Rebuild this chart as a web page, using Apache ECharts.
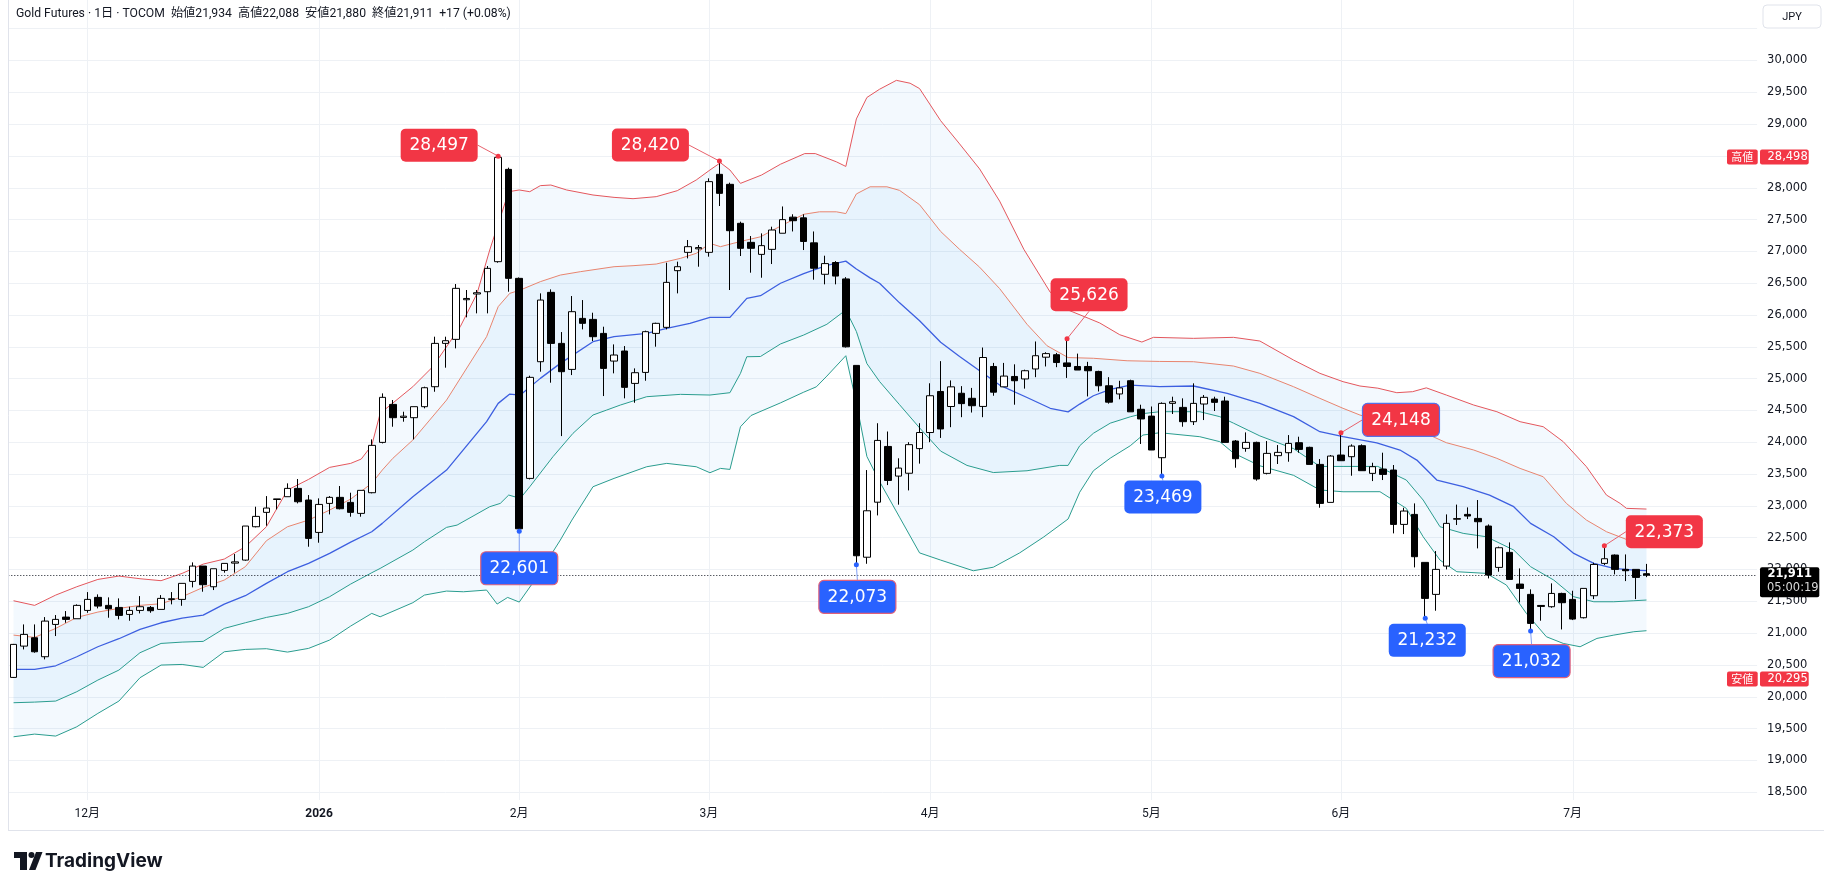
<!DOCTYPE html>
<html><head><meta charset="utf-8">
<script src="https://cdn.jsdelivr.net/npm/echarts@6/dist/echarts.min.js"></script>
<style>html,body{margin:0;padding:0;background:#fff;}#c{width:1824px;height:890px;}</style>
</head><body><div id="c"></div>
<script>
// ---------- data ----------
// daily bars: [open, close, low, high]
const ohlc = [
[20304,20823,20295,20830],[20796,20980,20744,21137],[20927,20707,20692,21137],[20629,21189,20587,21252],[21137,21216,20954,21284],
[21252,21216,21163,21347],[21226,21436,21226,21452],[21357,21530,21320,21645],[21562,21425,21389,21609],[21436,21383,21242,21562],
[21404,21279,21216,21546],[21294,21357,21195,21415],[21357,21415,21310,21582],[21404,21352,21320,21426],[21373,21546,21373,21598],
[21530,21540,21452,21645],[21530,21782,21430,21782],[21813,22054,21719,22112],[22054,21761,21651,22054],[21729,22012,21677,22012],
[21986,22096,21950,22096],[22100,22120,21950,22243],[22148,22683,22138,22683],[22672,22835,22662,22987],[22898,22966,22688,23154],
[23100,23110,22945,23110],[23144,23275,23144,23354],[23275,23065,23039,23422],[23092,22489,22358,23170],[22583,23023,22421,23118],
[23039,23134,22866,23154],[23134,22955,22945,23312],[23055,22898,22830,23207],[22882,23244,22830,23244],[23207,23951,23197,24045],
[23998,24706,23982,24768],[24595,24386,24244,24664],[24390,24410,24323,24480],[24386,24559,24045,24559],[24559,24857,24533,24873],
[24873,25554,24794,25659],[25554,25596,25172,25659],[25617,26419,25476,26487],[26240,26260,25963,26393],[26330,26350,26026,26393],
[26366,26733,26026,26770],[26838,28478,26822,28497],[28289,26576,26366,28316],[26576,22640,22601,26590],[23432,25020,23416,25046],
[25266,26235,25109,26340],[26356,25554,24936,26403],[25554,25109,24097,25732],[25145,26052,25056,26298],[25947,25869,25774,26235],
[25931,25659,25591,26036],[25711,25161,24726,25816],[25276,25371,25083,25538],[25434,24863,24690,25512],[24925,25093,24621,25161],
[25098,25738,24967,25754],[25711,25869,25502,25879],[25806,26513,25774,26822],[26697,26759,26340,26838],[26985,27074,26890,27179],
[27040,27060,26759,27100],[26985,28096,26917,28148],[28211,27912,27713,28420],[28054,27325,26393,28080],[27441,27048,26927,27467],
[27142,27048,26665,27241],[26953,27090,26586,27283],[27032,27336,26801,27388],[27285,27499,27285,27706],[27538,27482,27313,27583],
[27527,27156,27021,27583],[27134,26735,26555,27313],[26640,26808,26482,26932],[26825,26612,26482,26847],[26567,25500,25489,26595],
[25208,22216,22073,25208],[22193,22923,22090,23563],[23058,24029,22850,24299],[23934,23400,23327,24169],[23468,23594,23019,23748],
[23513,23962,23243,24001],[23900,24153,23664,24299],[24153,24731,24001,24927],[24798,24209,24068,25275],[24562,24871,24237,24972],
[24770,24607,24394,24882],[24691,24574,24467,24854],[24563,25332,24394,25489],[25191,24787,24731,25247],[24871,25040,24871,25247],
[25034,24967,24590,25225],[24995,25124,24843,25141],[25152,25360,25023,25584],[25337,25393,25191,25415],[25376,25253,25180,25404],
[25247,25191,25011,25626],[25191,25135,25135,25393],[25191,25124,24720,25264],[25113,24888,24798,25124],[24888,24630,24607,25023],
[24759,24854,24675,24966],[24967,24478,24478,24983],[24518,24366,23973,24590],[24411,23878,23878,24562],[23757,24611,23469,24627],
[24611,24637,24444,24716],[24548,24323,24244,24690],[24323,24611,24271,24926],[24601,24706,24349,24742],[24679,24627,24491,24716],
[24648,23998,23998,24716],[24019,23741,23600,24035],[23904,23998,23851,24155],[23998,23422,23396,24009],[23511,23825,23495,24019],
[23789,23841,23658,23956],[23836,23982,23694,24113],[23993,23888,23836,24087],[23920,23652,23652,23930],[23652,23039,22971,23736],
[23055,23783,23055,23799],[23799,23710,23710,24148],[23773,23940,23474,23967],[23946,23553,23553,23967],[23511,23616,23390,23678],
[23579,23495,23406,23836],[23563,22709,22568,23642],[22709,22919,22557,22971],[22866,22201,22033,23039],[22112,21546,21232,22112],
[21609,22002,21352,22290],[22054,22725,22002,22866],[22790,22800,22699,23020],[22866,22840,22793,22976],[22803,22751,22332,23092],
[22683,21913,21860,22709],[22033,22342,21965,22360],[22269,21844,21844,22426],[21771,21703,21483,22017],[21609,21153,21032,21688],
[21435,21420,21195,21441],[21415,21624,21399,21782],[21624,21478,21058,21635],[21530,21221,21205,21666],[21242,21703,21231,21703],
[21588,22080,21535,22106],[22096,22169,22070,22373],[22227,22002,21923,22237],[22002,21981,21818,22237],[22002,21876,21535,22002],
[21934,21911,21880,22088]
];
const slotCount = 166; // bar slots on the time scale (incl. empty right margin)
const monthTicks = [[7,'12月'],[29,'2026'],[48,'2月'],[66,'3月'],[87,'4月'],[108,'5月'],[126,'6月'],[148,'7月']];
const yRange = {min:18000, max:30951, step:500, firstLabel:18500, lastLabel:30000};

// band lines: [bar position, price]
const outerUpper = [[0,21509],[2,21436],[4,21598],[6,21729],[8,21844],[10,21897],[12,21855],[14,21824],[16,21939],[18,22085],[20,22164],[22,22358],[24,22672],[26,23249],[28,23416],[30,23605],[32,23668],[33,23736],[34,23951],[34.8,24454],[37.9,24873],[39.8,25188],[42.4,25816],[44,26340],[45.2,27022],[47,27938],[48,27965],[49,27938],[50,28033],[51,28043],[52.5,27965],[55,27886],[57,27849],[58.8,27828],[61,27860],[63,27954],[64.8,28122],[66.1,28279],[67.1,28394],[68,28279],[69,28069],[71,28200],[72.8,28370],[75.1,28537],[76.1,28537],[78.1,28408],[79,28335],[80,29082],[81,29419],[82.2,29548],[83.8,29688],[85.1,29643],[86,29559],[88,29054],[89.8,28689],[91.7,28296],[93.6,27790],[95.9,27032],[98.4,26359],[100.1,26078],[102,25950],[103.1,25875],[105,25690],[107.1,25575],[108.2,25649],[112,25633],[115.8,25649],[118.3,25591],[121.5,25292],[124,25083],[126.2,24952],[127.8,24884],[129.5,24850],[131.3,24779],[132.8,24795],[134.1,24855],[136,24742],[138.6,24585],[140.8,24480],[143,24323],[145.2,24244],[147.1,24009],[149.3,23616],[151.2,23170],[152.5,23039],[153.1,22961],[155,22950]];
const innerUpper = [[0,20969],[2,20933],[4,21074],[6,21247],[8,21331],[10,21389],[12,21436],[14,21462],[16,21572],[18,21719],[20,21834],[22,22044],[24,22452],[26,22672],[28,22777],[30,22934],[32,23107],[34,23354],[35,23563],[36,23747],[37.9,24035],[41.1,24663],[44.9,25659],[46,26131],[47.1,26340],[48.1,26393],[50,26524],[51.9,26628],[53.8,26681],[57,26759],[58.8,26775],[61,26801],[63.3,26890],[64.8,26969],[66.1,27126],[67.1,27074],[68.3,27126],[69.6,27179],[70.9,27229],[72.8,27397],[75,27583],[76.5,27622],[78.1,27622],[79,27594],[80,27903],[81.3,28015],[82.9,28015],[84.1,27959],[86,27734],[88,27313],[89.8,27032],[91.7,26752],[93.6,26415],[96.2,25854],[98.1,25517],[100.1,25331],[102.5,25320],[105.7,25281],[108.8,25270],[112,25266],[115.8,25198],[118.3,25083],[121.5,24873],[124,24690],[126.2,24533],[127.8,24428],[129.7,24340],[132.4,24260],[134.4,24113],[136,23993],[138.6,23878],[140.8,23747],[143,23589],[145.2,23458],[147.4,23039],[149.3,22777],[151.2,22594],[153.1,22473],[155,22463]];
const basis = [[0,20430],[2,20430],[4,20487],[6,20629],[8,20786],[10,20912],[12,21058],[14,21163],[16,21237],[18,21284],[20,21457],[22,21588],[24,21782],[26,21965],[28,22096],[30,22253],[32,22431],[34,22594],[35,22725],[37.9,23144],[41.1,23563],[44.9,24323],[46,24611],[47.1,24758],[48.1,24742],[50,25004],[51.9,25240],[55,25580],[57,25659],[60.1,25711],[62,25790],[64.2,25869],[66.1,25963],[68,25963],[69.6,26262],[70.9,26303],[72.8,26499],[75,26651],[77.2,26780],[79,26847],[80,26724],[81.3,26583],[82.2,26499],[84.1,26191],[86,25910],[88,25573],[89.8,25348],[91.7,25124],[93.6,24899],[96.2,24703],[98.4,24534],[100.1,24478],[101.2,24600],[102.5,24731],[104.1,24832],[106,24899],[108.8,24873],[112,24884],[115.2,24768],[118.3,24611],[121.5,24402],[124,24166],[126.2,24087],[129.4,23990],[131.6,23878],[133.2,23720],[135.1,23406],[137.6,23301],[140.1,23170],[142.4,22987],[144,22725],[146.2,22515],[148.1,22253],[150,22096],[151.9,22017],[153.8,21991],[155,21981]];
const innerLower = [[0,19906],[2,19916],[4,19932],[6,20079],[8,20262],[10,20419],[12,20692],[14,20838],[16,20859],[18,20870],[20,21074],[22,21163],[24,21247],[26,21310],[28,21415],[30,21572],[32,21771],[34,21949],[34.8,22017],[37.9,22305],[39,22436],[41.1,22662],[42.1,22698],[45.2,22987],[46.2,23039],[47,23170],[48.1,23118],[49,23301],[51.2,23773],[53.1,24140],[55,24428],[56.3,24506],[57.6,24585],[60.1,24716],[63.3,24753],[66.1,24742],[68,24779],[69,25083],[69.6,25344],[70.9,25348],[72.8,25545],[75,25685],[77.2,25854],[79,26078],[80,25741],[81,25236],[82.2,24955],[84.1,24590],[86,24226],[88,23861],[90.5,23636],[93,23524],[96.2,23552],[99.3,23636],[100.1,23636],[101.2,23945],[102.5,24141],[104.1,24300],[106,24400],[107.2,24450],[108.8,24480],[112.6,24480],[114.5,24402],[115.8,24300],[118.3,24100],[121.5,23900],[124,23620],[126.2,23620],[129.5,23620],[132.2,23406],[133.8,23092],[135.4,22672],[137.6,22568],[139.8,22515],[142.4,22306],[144,22044],[146.2,21834],[148.1,21572],[150,21493],[151.9,21493],[153.8,21509],[155,21520]];
const outerLower = [[0,19371],[2,19413],[4,19382],[6,19528],[8,19738],[10,19932],[12,20299],[14,20498],[16,20508],[18,20461],[20,20707],[22,20744],[24,20755],[26,20702],[28,20760],[30,20891],[32,21111],[34,21310],[34.8,21257],[37.9,21478],[39,21598],[41.1,21661],[42.7,21650],[44.9,21677],[45.9,21457],[46.9,21561],[48,21488],[49.7,21886],[51.9,22463],[53,22777],[55,23301],[57,23432],[60.1,23615],[62,23668],[64.8,23615],[66.1,23521],[67.1,23589],[68,23573],[69,24244],[70,24420],[72.8,24619],[75,24787],[76.2,24871],[77.2,25040],[79,25360],[80,24619],[81,23776],[82.2,23383],[84.1,22822],[86,22261],[88,22148],[91.1,21980],[93,22036],[95.5,22261],[97.8,22513],[100.1,22794],[101.2,23215],[102.5,23552],[104.1,23750],[106,23945],[107.2,24113],[108.8,24150],[112.6,24087],[114.5,24009],[115.8,23830],[118.3,23630],[121.5,23480],[124,23250],[126.2,23222],[129.7,23223],[132.2,22961],[133.8,22515],[135.4,22148],[137,21965],[139.8,21939],[141.7,21756],[143.6,21310],[145.5,20943],[147.1,20838],[148.7,20786],[150.3,20917],[151.9,20969],[153.8,21022],[155,21038]];

// pivot labels: [bar index, 'high' | 'low']
const pivots = [[46,'high'],[67,'high'],[48,'low'],[80,'low'],[100,'high'],[109,'low'],[126,'high'],[134,'low'],[144,'low'],[151,'high']];
const titleText = 'Gold Futures · 1日 · TOCOM  始値21,934  高値22,088  安値21,880  終値21,911  +17 (+0.08%)';
const lastPrice = 21911;
const countdown = '05:00:19';
const scaleHigh = 28498;
const scaleLow = 20295;

// ---------- layout / style (not data) ----------
const paneBottomY = 800; // pixel row where the price pane ends (time scale below)
const pivotLayout = [
  {dx:-59, dy:-11, side:'r'}, {dx:-69, dy:-16, side:'r'}, {dx:0, dy:37, side:'t', border:'#e0607a'},
  {dx:1, dy:32, side:'t', border:'#e0607a'}, {dx:22, dy:-44, side:'b'}, {dx:1, dy:21, side:'t'},
  {dx:60, dy:-13, side:'l', border:'#5470e8'}, {dx:2, dy:22, side:'t'}, {dx:1, dy:30, side:'t', border:'#e0607a'},
  {dx:60, dy:-14, side:'l'}
];
const RED = '#f23645', BLUE = '#2962ff';
const NUMFONT = '"DejaVu Sans", sans-serif';
const fmt = v => Math.round(v).toLocaleString('en-US');

const chart = echarts.init(document.getElementById('c'), null, {renderer:'canvas', devicePixelRatio:1});
const labelMap = new Map(monthTicks);
const categories = Array.from({length: slotCount}, (_, i) => String(i));
const pivotData = pivots.map(([i, k]) => [i, k === 'high' ? ohlc[i][3] : ohlc[i][2]]);

function bandFill(upper, lower, fill) {
  return {
    type:'custom', xAxisIndex:1, yAxisIndex:0, silent:true, z:2, data:[[0, 20000]],
    renderItem: (params, api) => {
      const pts = upper.map(p => api.coord(p)).concat(lower.slice().reverse().map(p => api.coord(p)));
      return {type:'polygon', shape:{points:pts}, style:{fill:fill}};
    }
  };
}
function bandLine(data, color, width) {
  return {type:'line', xAxisIndex:1, yAxisIndex:0, data:data, symbol:'none', showSymbol:false, silent:true,
          z:3, lineStyle:{color:color, width:width}};
}

chart.setOption({
  animation:false,
  backgroundColor:'#ffffff',
  grid:{left:8.3, right:66.9, top:0, bottom:66, containLabel:false, outerBoundsMode:'none'},
  xAxis:[
    {type:'category', data:categories, boundaryGap:true, offset:-24,
     axisLine:{show:false}, axisTick:{show:false}, splitLine:{show:false},
     axisLabel:{interval:(idx) => labelMap.has(idx), formatter:(v, idx) => {
        const t = labelMap.get(idx) || ''; return /^\d{4}$/.test(t) ? '{y|' + t + '}' : t; },
       margin:8, color:'#131722', fontSize:12, fontFamily:'Roboto, "Noto Sans CJK JP", sans-serif',
       rich:{y:{fontWeight:'bold', fontSize:12, color:'#131722', fontFamily:'Roboto, sans-serif'}}}},
    {type:'value', min:-0.5, max:slotCount - 0.5, show:false}
  ],
  yAxis:[{type:'value', position:'right', min:yRange.min, max:yRange.max, interval:yRange.step, scale:true,
    axisLine:{show:false}, axisTick:{show:false},
    splitLine:{show:true, showMinLine:false, showMaxLine:false, lineStyle:{color:'#eef1f5', width:1}},
    axisLabel:{margin:10, color:'#131722', fontSize:11.5, fontFamily:NUMFONT,
      formatter:(v) => (v < yRange.firstLabel || v > yRange.lastLabel) ? '' : fmt(v)}}],
  series:[
    {type:'custom', xAxisIndex:1, yAxisIndex:0, z:1, silent:true, data:monthTicks.map(([i]) => [i, yRange.max]),
     renderItem:(params, api) => {
       const p = api.coord([api.value(0), api.value(1)]);
       const x = Math.round(p[0]) + 0.5;
       return {type:'line', shape:{x1:x, y1:p[1], x2:x, y2:paneBottomY}, style:{stroke:'#eef1f5', lineWidth:1}};
     }},
    bandFill(outerUpper, outerLower, 'rgba(33,150,243,0.055)'),
    bandFill(innerUpper, innerLower, 'rgba(33,150,243,0.055)'),
    bandLine(outerUpper, '#e4575d', 1),
    bandLine(innerUpper, '#e8856f', 1),
    bandLine(basis, '#3d5fe0', 1.3),
    bandLine(innerLower, '#2a9d8f', 1),
    bandLine(outerLower, '#2a9d8f', 1),
    {type:'candlestick', xAxisIndex:0, yAxisIndex:0, data:ohlc, barWidth:7, z:5, silent:true,
     itemStyle:{color:'#ffffff', color0:'#000000', borderColor:'#000000', borderColor0:'#000000', borderWidth:1},
     markLine:{silent:true, symbol:['none','none'], label:{show:false}, animation:false,
       lineStyle:{color:'#131722', width:1, type:[1,2]}, data:[{yAxis:lastPrice}]}},
    {type:'custom', xAxisIndex:0, yAxisIndex:0, z:10, silent:true, data:pivotData,
     renderItem:(params, api) => {
       const k = params.dataIndex;
       const p = api.coord([api.value(0), api.value(1)]);
       const L = pivotLayout[k];
       const high = pivots[k][1] === 'high';
       const W = 77, H = 33;
       const cx = p[0] + L.dx, cy = p[1] + L.dy;
       let ax = cx, ay = cy;
       if (L.side === 'r') ax = cx + W/2; else if (L.side === 'l') ax = cx - W/2;
       else if (L.side === 't') ay = cy - H/2; else ay = cy + H/2;
       const col = high ? RED : BLUE;
       const lcol = high ? '#e8626d' : '#7f9ff6';
       return {type:'group', children:[
         {type:'line', shape:{x1:p[0], y1:p[1], x2:ax, y2:ay}, style:{stroke:lcol, lineWidth:1}},
         {type:'circle', shape:{cx:p[0], cy:p[1], r:2.5}, style:{fill:col}},
         {type:'rect', shape:{x:cx - W/2, y:cy - H/2, width:W, height:H, r:5},
          style:{fill:col, stroke:L.border || col, lineWidth:L.border ? 1.2 : 0}},
         {type:'text', style:{text:fmt(api.value(1)), x:cx, y:cy + 0.5, align:'center', verticalAlign:'middle',
          fill:'#ffffff', font:'17px "DejaVu Sans", sans-serif'}}
       ]};
     }}
  ]
});

// ---------- overlay graphics positioned from the scales ----------
const yOf = v => chart.convertToPixel({yAxisIndex:0}, v);
const yH = yOf(scaleHigh), yL = yOf(scaleLow), yP = yOf(lastPrice);
const g = [];
g.push({type:'line', shape:{x1:8.5, y1:0, x2:8.5, y2:830.5}, style:{stroke:'#e0e3eb', lineWidth:1}, z:50});
g.push({type:'line', shape:{x1:8, y1:830.5, x2:1824, y2:830.5}, style:{stroke:'#e0e3eb', lineWidth:1}, z:50});
g.push({type:'text', x:16, y:14, style:{text:titleText, font:'12.2px Roboto, "Noto Sans CJK JP", sans-serif', fill:'#131722', verticalAlign:'middle'}, z:50});
g.push({type:'rect', shape:{x:1763, y:5, width:58, height:23, r:4}, style:{fill:'#fff', stroke:'#e0e3eb', lineWidth:1}, z:50});
g.push({type:'text', x:1792, y:17, style:{text:'JPY', font:'11px Roboto, sans-serif', fill:'#131722', align:'center', verticalAlign:'middle'}, z:51});
function sideTag(y, label, price) {
  g.push({type:'rect', shape:{x:1727, y:y - 6.5, width:30.7, height:15, r:2}, style:{fill:RED}, z:60});
  g.push({type:'text', x:1742.3, y:y + 1, style:{text:label, font:'11px "Noto Sans CJK JP", sans-serif', fill:'#fff', align:'center', verticalAlign:'middle'}, z:61});
  g.push({type:'rect', shape:{x:1760, y:y - 6.5, width:48.7, height:15, r:2}, style:{fill:RED}, z:60});
  g.push({type:'text', x:1767.5, y:y + 1, style:{text:fmt(price), font:'11.5px ' + NUMFONT, fill:'#fff', verticalAlign:'middle'}, z:61});
}
sideTag(yH, '高値', scaleHigh);
sideTag(yL, '安値', scaleLow);
g.push({type:'rect', shape:{x:1760, y:yP - 7.8, width:59.3, height:30, r:2}, style:{fill:'#000'}, z:60});
g.push({type:'text', x:1767.5, y:yP - 1.5, style:{text:fmt(lastPrice), font:'bold 11.5px ' + NUMFONT, fill:'#fff', verticalAlign:'middle'}, z:61});
g.push({type:'text', x:1767, y:yP + 13.2, style:{text:countdown, font:'11.5px ' + NUMFONT, fill:'#d8d8d8', verticalAlign:'middle'}, z:61});
// TradingView logo
g.push({type:'rect', shape:{x:14, y:852, width:13, height:6}, style:{fill:'#131722'}, z:50});
g.push({type:'rect', shape:{x:20, y:852, width:7, height:18}, style:{fill:'#131722'}, z:50});
g.push({type:'circle', shape:{cx:31.5, cy:855, r:3}, style:{fill:'#131722'}, z:50});
g.push({type:'polygon', shape:{points:[[29,870],[36,852],[42.5,852],[35.5,870]]}, style:{fill:'#131722'}, z:50});
g.push({type:'text', x:45, y:861.5, style:{text:'TradingView', font:'bold 19px Inter, Roboto, sans-serif', fill:'#131722', verticalAlign:'middle'}, z:50});
chart.setOption({graphic:{elements:g}});
</script>
</body></html>
